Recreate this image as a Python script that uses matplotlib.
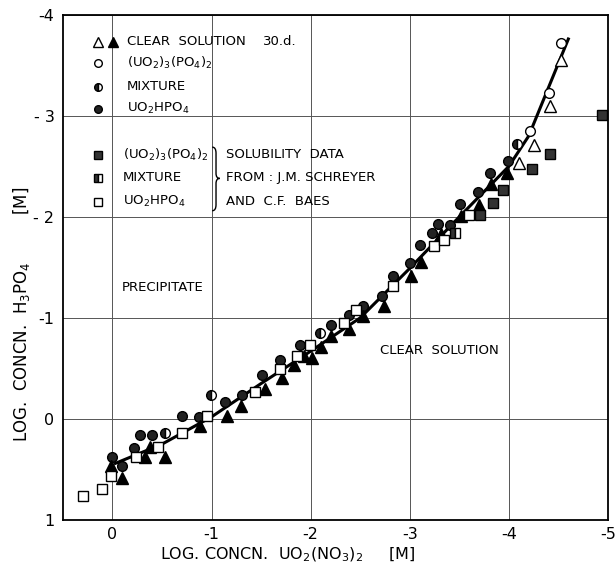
import matplotlib
matplotlib.use("Agg")
import matplotlib.pyplot as plt
from matplotlib.patches import Rectangle, PathPatch
from matplotlib.path import Path

# ── data (x: log UO2(NO3)2, y: log H3PO4) ───────────────────────────────
# precipitate UO2HPO4 (filled circles)
hpo4_x = [0.00, -0.10, -0.22, -0.28, -0.40, -0.70, -0.87, -1.14, -1.31, -1.51,
          -1.69, -1.89, -2.21, -2.39, -2.53, -2.72, -2.83, -3.00, -3.10, -3.22,
          -3.29, -3.41, -3.51, -3.69, -3.81, -3.99]
hpo4_y = [0.38, 0.47, 0.29, 0.16, 0.16, -0.03, -0.02, -0.17, -0.24, -0.43,
          -0.58, -0.73, -0.93, -1.03, -1.12, -1.22, -1.41, -1.54, -1.72, -1.84,
          -1.93, -1.92, -2.13, -2.25, -2.43, -2.55]

# mixture (half filled circles)
mix_x = [-0.53, -0.99, -2.09, -4.08]
mix_y = [0.14, -0.24, -0.85, -2.72]

# (UO2)3(PO4)2 precipitate (open circles)
po4_x = [-4.21, -4.40, -4.53]
po4_y = [-2.85, -3.23, -3.72]

# clear solution 30 d (open / filled triangles)
clear_open_x = [-4.10, -4.25, -4.41, -4.53]
clear_open_y = [-2.53, -2.71, -3.10, -3.55]
clear_x = [0.01, -0.10, -0.33, -0.38, -0.53, -0.88, -1.16, -1.30, -1.54, -1.71,
           -1.83, -1.93, -2.01, -2.10, -2.21, -2.39, -2.53, -2.74, -3.01, -3.11,
           -3.32, -3.52, -3.70, -3.82, -3.98]
clear_y = [0.47, 0.58, 0.38, 0.28, 0.38, 0.07, -0.03, -0.13, -0.30, -0.40,
           -0.53, -0.62, -0.60, -0.71, -0.82, -0.89, -1.02, -1.12, -1.41, -1.55,
           -1.83, -2.01, -2.12, -2.32, -2.43]

# Schreyer & Baes solubility data (squares)
sb_hpo4_x = [0.30, 0.10, 0.01, -0.24, -0.46, -0.70, -0.95, -1.44, -1.69, -1.86,
             -1.99, -2.34, -2.46, -2.83, -3.24, -3.35, -3.60]
sb_hpo4_y = [0.76, 0.69, 0.57, 0.38, 0.28, 0.14, -0.03, -0.27, -0.49, -0.62,
             -0.73, -0.95, -1.08, -1.32, -1.71, -1.77, -2.02]
sb_mix_x = [-3.46]
sb_mix_y = [-1.84]
sb_po4_x = [-3.71, -3.84, -3.94, -4.23, -4.41, -4.94]
sb_po4_y = [-2.02, -2.14, -2.27, -2.47, -2.62, -3.01]

# boundary curve
curve_x = [-0.03, -0.5, -1.0, -1.5, -2.0, -2.5, -3.0, -3.5, -4.0, -4.2, -4.4, -4.6]
curve_y = [0.44, 0.25, -0.02, -0.35, -0.67, -1.00, -1.49, -2.00, -2.50, -2.80, -3.28, -3.76]

x_ticks = [0, -1, -2, -3, -4, -5]
x_ticklabels = ["0", "-1", "-2", "-3", "-4", "-5"]
y_ticks = [-4, -3, -2, -1, 0, 1]
y_ticklabels = ["-4", "- 3", "- 2", "-1", "0", "1"]

FS = 9.5

fig = plt.figure(figsize=(6.16, 5.67), dpi=100)
ax = fig.add_axes([0.102, 0.083, 0.885, 0.891])
ax.set_xlim(0.5, -5.0)
ax.set_ylim(1.0, -4.0)

ax.set_xticks(x_ticks)
ax.set_xticklabels(x_ticklabels, fontsize=11.5)
ax.set_yticks(y_ticks)
ax.set_yticklabels(y_ticklabels, fontsize=11.5)
ax.tick_params(axis="x", length=0, pad=5)
ax.tick_params(axis="y", length=0, pad=6)
ax.grid(True, color="#555555", lw=0.7)
for s in ax.spines.values():
    s.set_linewidth(1.3)

# hide the x=0 grid line behind the legend column
ax.add_patch(Rectangle((0.035, 0.61), 0.075, 0.365, transform=ax.transAxes,
                       facecolor="white", edgecolor="none", zorder=1.5))

ax.plot(curve_x, curve_y, color="black", lw=2.2, zorder=2)

ms = 7
common = dict(ls="none", markeredgecolor="black", mew=1.0, zorder=3)
ax.plot(hpo4_x, hpo4_y, "o", ms=ms, markerfacecolor="#222222", **common)
ax.plot(mix_x, mix_y, "o", ms=ms, fillstyle="left", markerfacecolor="#222222",
        markerfacecoloralt="white", **common)
ax.plot(po4_x, po4_y, "o", ms=ms, markerfacecolor="white", **common)
ax.plot(clear_x, clear_y, "^", ms=8, markerfacecolor="black", **common)
ax.plot(clear_open_x, clear_open_y, "^", ms=8.5, markerfacecolor="white", **common)
ax.plot(sb_hpo4_x, sb_hpo4_y, "s", ms=7, markerfacecolor="white", **common)
ax.plot(sb_mix_x, sb_mix_y, "s", ms=7, fillstyle="left", markerfacecolor="#333333",
        markerfacecoloralt="white", **common)
ax.plot(sb_po4_x, sb_po4_y, "s", ms=7, markerfacecolor="#333333", **common)

# ── hand-drawn legend ──────────────────────────────────────────────────
T = ax.transAxes
lk = dict(ls="none", markeredgecolor="black", mew=1.0, transform=T, zorder=4)
ax.plot([0.064], [0.947], "^", ms=7, markerfacecolor="white", **lk)
ax.plot([0.092], [0.947], "^", ms=7, markerfacecolor="black", **lk)
ax.plot([0.064], [0.905], "o", ms=5.5, markerfacecolor="white", **lk)
ax.plot([0.064], [0.857], "o", ms=5.5, fillstyle="left", markerfacecolor="#222222",
        markerfacecoloralt="white", **lk)
ax.plot([0.064], [0.814], "o", ms=5.5, markerfacecolor="#222222", **lk)
ax.plot([0.064], [0.723], "s", ms=5.5, markerfacecolor="#333333", **lk)
ax.plot([0.064], [0.677], "s", ms=5.5, fillstyle="left", markerfacecolor="#333333",
        markerfacecoloralt="white", **lk)
ax.plot([0.064], [0.630], "s", ms=5.5, markerfacecolor="white", **lk)

tk = dict(transform=T, fontsize=FS, va="center", ha="left", zorder=4)
ax.text(0.117, 0.947, "CLEAR  SOLUTION", **tk)
ax.text(0.367, 0.947, "30.d.", **tk)
ax.text(0.117, 0.905, "(UO$_2$)$_3$(PO$_4$)$_2$", **tk)
ax.text(0.117, 0.857, "MIXTURE", **tk)
ax.text(0.117, 0.814, "UO$_2$HPO$_4$", **tk)
ax.text(0.110, 0.723, "(UO$_2$)$_3$(PO$_4$)$_2$", **tk)
ax.text(0.110, 0.677, "MIXTURE", **tk)
ax.text(0.110, 0.630, "UO$_2$HPO$_4$", **tk)

# curly brace joining the three solubility entries
bx0, bx1, bx2 = 0.274, 0.281, 0.288
by_top, by_mid, by_bot = 0.738, 0.676, 0.612
brace = Path(
    [(bx0, by_top), (bx1, by_top), (bx1, by_top - 0.012),
     (bx1, by_mid + 0.010), (bx1, by_mid), (bx2, by_mid),
     (bx1, by_mid), (bx1, by_mid - 0.010),
     (bx1, by_bot + 0.012), (bx1, by_bot), (bx0, by_bot)],
    [Path.MOVETO, Path.CURVE3, Path.CURVE3,
     Path.LINETO, Path.CURVE3, Path.CURVE3,
     Path.CURVE3, Path.CURVE3,
     Path.LINETO, Path.CURVE3, Path.CURVE3])
ax.add_patch(PathPatch(brace, transform=T, facecolor="none", edgecolor="black",
                       lw=1.0, zorder=4))

ax.text(0.299, 0.723, "SOLUBILITY  DATA", **tk)
ax.text(0.299, 0.677, "FROM : J.M. SCHREYER", **tk)
ax.text(0.299, 0.630, "AND  C.F.  BAES", **tk)

ax.text(-0.51, -1.30, "PRECIPITATE", fontsize=FS, ha="center", va="center")
ax.text(-3.30, -0.68, "CLEAR  SOLUTION", fontsize=FS, ha="center", va="center")

fig.text(160 / 616, 1 - 555 / 567, "LOG. CONCN.  UO$_2$(NO$_3$)$_2$     [M]",
         fontsize=11.5, ha="left", va="center")
fig.text(22 / 616, 1 - 442 / 567, "LOG.  CONCN.  H$_3$PO$_4$         [M]",
         fontsize=12, ha="center", va="bottom", rotation=90)

fig.savefig("out.png", dpi=100)
